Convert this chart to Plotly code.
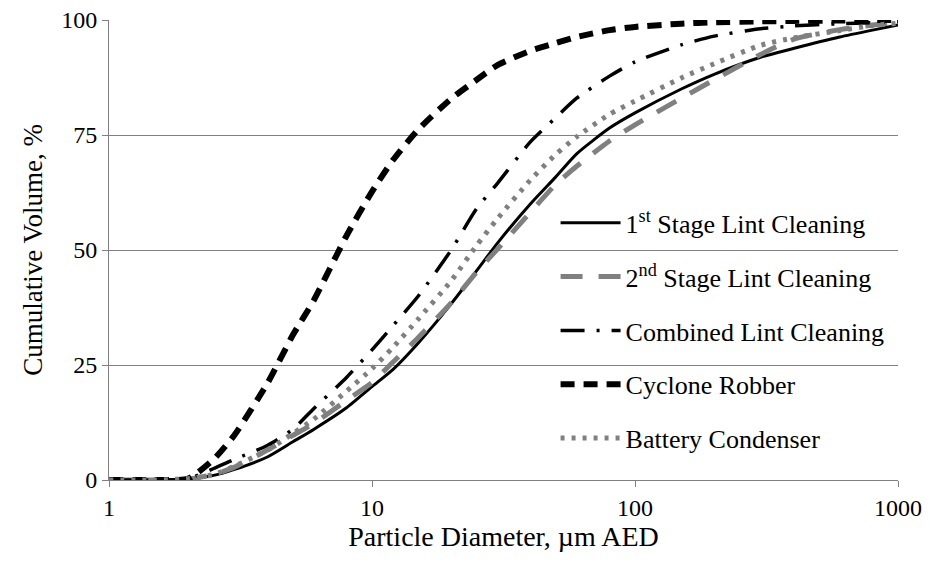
import plotly.graph_objects as go

# Particle diameter (µm AED) at which cumulative volume is reported
diameter = [1, 1.5, 2, 2.5, 3, 4, 5, 6, 8, 10, 12, 15, 20, 25, 30, 40, 50, 60,
            80, 100, 150, 200, 300, 400, 600, 800, 1000]

# Cumulative volume (%) for each dust source
first_stage = [0, 0, 0.2, 1.0, 2.3, 5.0, 8.3, 11.0, 15.7, 20.3, 24.0, 29.8, 38.3,
               45.5, 51.5, 60.0, 65.9, 70.9, 76.5, 79.8, 85.0, 88.2, 91.9, 93.8,
               96.3, 97.8, 98.9]
second_stage = [0, 0, 0.2, 1.2, 2.8, 6.5, 9.7, 12.3, 17.3, 21.2, 25.6, 31.0, 38.5,
                45.2, 50.2, 58.2, 64.3, 68.2, 73.7, 77.2, 83.0, 87.0, 92.5, 95.8,
                97.9, 98.9, 99.5]
combined = [0, 0, 0.3, 2.5, 4.5, 7.5, 11.0, 15.5, 22.3, 28.3, 33.5, 40.0, 50.0,
            59.0, 64.5, 73.5, 78.8, 83.0, 87.8, 90.9, 94.6, 96.5, 98.1, 98.7,
            99.2, 99.4, 99.6]
cyclone = [0, 0, 0.3, 4.5, 9.8, 21.0, 31.5, 39.0, 53.1, 62.7, 69.5, 76.2, 82.9,
           87.0, 90.2, 93.3, 95.0, 96.3, 97.8, 98.5, 99.2, 99.5, 99.7, 99.8,
           99.9, 100, 100]
battery = [0, 0, 0.3, 1.2, 3.0, 6.5, 10.1, 13.2, 19.3, 24.2, 28.8, 35.0, 43.3,
           51.0, 56.8, 65.2, 70.8, 74.6, 79.5, 82.4, 87.4, 90.5, 94.5, 96.1,
           97.7, 98.8, 99.3]

series_names = ["1<sup>st</sup> Stage Lint Cleaning",
                "2<sup>nd</sup> Stage Lint Cleaning",
                "Combined Lint Cleaning",
                "Cyclone Robber",
                "Battery Condenser"]

FONT = "Times New Roman, Liberation Serif, DejaVu Serif, serif"
BLACK = "#000000"
GREY = "#808080"

styles = [
    dict(color=BLACK, width=3, dash="solid"),
    dict(color=GREY, width=5, dash="22px,16px"),
    dict(color=BLACK, width=3.5, dash="24px,12px,3px,12px"),
    dict(color=BLACK, width=6, dash="14px,9px"),
    dict(color=GREY, width=5, dash="4px,7px"),
]

fig = go.Figure()
for i, (name, values, line) in enumerate(zip(
        series_names, [first_stage, second_stage, combined, cyclone, battery], styles)):
    fig.add_trace(go.Scatter(
        x=diameter, y=values, name=name, mode="lines",
        line=dict(shape="spline", smoothing=0.6, **line),
        legendgroup=f"g{i}", cliponaxis=False,
    ))

fig.update_layout(
    width=930, height=565,
    margin=dict(l=109, r=32, t=20, b=85),
    paper_bgcolor="white", plot_bgcolor="white",
    font=dict(family=FONT, size=24, color="#000000"),
    legend=dict(
        x=0.566, y=0.61, xanchor="left", yanchor="top",
        bgcolor="rgba(0,0,0,0)", font=dict(family=FONT, size=26),
        tracegroupgap=17, itemwidth=60,
    ),
    xaxis=dict(
        type="log", range=[0, 3], automargin=False,
        tickvals=[1, 10, 100, 1000], ticktext=["1", "10", "100", "1000"],
        showgrid=False, showline=True, linecolor=GREY, linewidth=1,
        ticks="outside", ticklen=6, tickcolor=GREY,
        tickfont=dict(family=FONT, size=24),
        title=dict(text="Particle Diameter, µm AED",
                   font=dict(family=FONT, size=28), standoff=4),
        zeroline=False,
    ),
    yaxis=dict(
        range=[0, 100], tickvals=[0, 25, 50, 75, 100], automargin=False,
        showgrid=True, gridcolor=GREY, gridwidth=1,
        showline=True, linecolor=GREY, linewidth=1,
        ticks="outside", ticklen=6, tickcolor=GREY,
        tickfont=dict(family=FONT, size=24),
        title=dict(text="Cumulative Volume, %",
                   font=dict(family=FONT, size=27), standoff=10),
        zeroline=False,
    ),
)

fig.write_html("out.html")
